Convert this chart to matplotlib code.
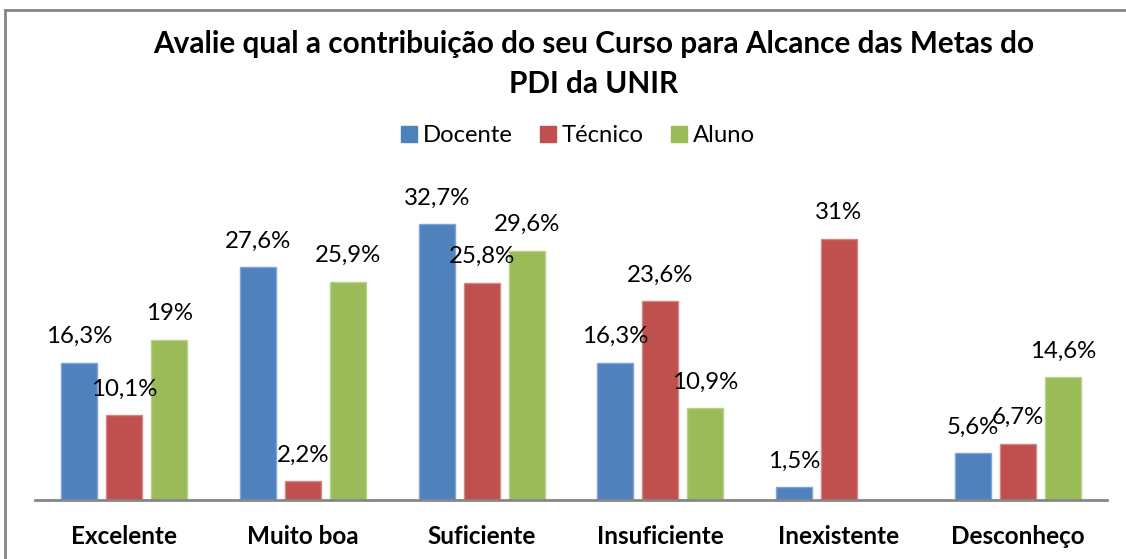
import numpy as np
import matplotlib
matplotlib.use("Agg")
import matplotlib.pyplot as plt
from matplotlib.lines import Line2D
from matplotlib.patches import Rectangle

plt.rcParams['font.family'] = ['Lato', 'DejaVu Sans']

categories = ["Excelente", "Muito boa", "Suficiente", "Insuficiente", "Inexistente", "Desconheço"]
series_names = ["Docente", "Técnico", "Aluno"]
docente = [16.3, 27.6, 32.7, 16.3, 1.5, 5.6]
tecnico = [10.1, 2.2, 25.8, 23.6, 31.0, 6.7]
aluno = [19.0, 25.9, 29.6, 10.9, np.nan, 14.6]
colors = ["#4F81BD", "#C0504D", "#9BBB59"]
edge_colors = ["#7FA3D3", "#D88482", "#B8D289"]
title = "Avalie qual a contribuição do seu Curso para Alcance das Metas do\nPDI da UNIR"

W, H = 1126, 559
fig = plt.figure(figsize=(W / 100, H / 100), dpi=100)

# outer chart border (partially cut in reference)
fig.add_artist(Line2D([5 / W, 1.0], [1 - 10 / H, 1 - 10 / H], color="#868686", lw=2, transform=fig.transFigure))
fig.add_artist(Line2D([5 / W, 5 / W], [0, 1 - 10 / H], color="#868686", lw=2, transform=fig.transFigure))

left, right, bottom, top = 35, 1107, 500, 205
ax = fig.add_axes([left / W, 1 - bottom / H, (right - left) / W, (bottom - top) / H])

def fmt(v):
    if abs(v - round(v)) < 1e-9:
        return f"{int(round(v))}%"
    return f"{v:.1f}%".replace(".", ",")

x = np.arange(len(categories))
bw = 0.2
step = 0.252
for j, (vals, c, ec) in enumerate(zip([docente, tecnico, aluno], colors, edge_colors)):
    xs = x + (j - 1) * step
    for xi, v in zip(xs, vals):
        if np.isnan(v):
            continue
        ax.bar(xi, v, width=bw, color=c, edgecolor=ec, linewidth=1, zorder=2)
        ax.annotate(fmt(v), (xi, v), xytext=(0, 14), textcoords="offset points",
                    ha="center", va="baseline", fontsize=17.3, color="black", annotation_clip=False)

ax.set_xlim(-0.5, len(categories) - 0.5)
ax.set_ylim(0, 35)
for s in ["left", "right", "top"]:
    ax.spines[s].set_visible(False)
ax.spines["bottom"].set_color("#868686")
ax.spines["bottom"].set_linewidth(2)
ax.set_yticks([])
ax.set_xticks(x)
ax.set_xticklabels(categories, fontsize=17.5, fontweight="bold")
ax.tick_params(axis="x", length=0, pad=18)

fig.text(594 / W, 1 - 53 / H, title.split("\n")[0], ha="center", va="baseline",
         fontsize=21.4, fontweight="bold")
fig.text(594 / W, 1 - 93 / H, title.split("\n")[1], ha="center", va="baseline",
         fontsize=21.4, fontweight="bold")

handles = [Rectangle((0, 0), 1, 1, color=c) for c in colors]
fig.legend(handles, series_names, loc="center", bbox_to_anchor=(578 / W, 1 - 136 / H),
           ncol=3, frameon=False, fontsize=17.2, handlelength=0.65, handleheight=0.65,
           handletextpad=0.25, columnspacing=1.15, borderaxespad=0)

fig.savefig("out.png", dpi=100)
